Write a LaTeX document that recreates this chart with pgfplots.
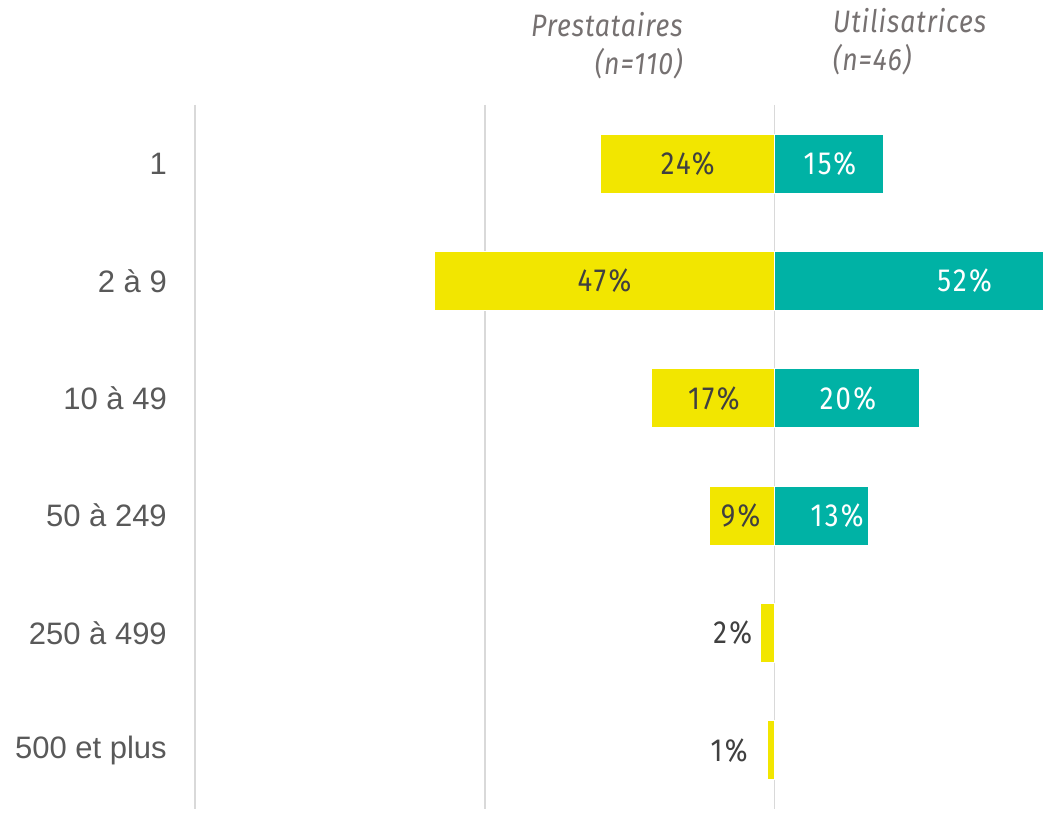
\documentclass[border=0pt]{standalone}
\usepackage{pgfplots}
\pgfplotsset{compat=1.18}
\usepackage{fontspec}
\setmainfont{Liberation Sans}
\newfontfamily\ecfont[FakeStretch=0.86, LetterSpace=7]{Fira Sans}
\newfontfamily\ecitfont[FakeStretch=0.86, LetterSpace=3]{Fira Sans Italic}
\definecolor{ecyellow}{HTML}{F2E600}
\definecolor{ecteal}{HTML}{00B2A5}
\definecolor{textdark}{HTML}{404040}
\definecolor{catgray}{HTML}{595959}
\definecolor{headgray}{HTML}{767171}
\begin{document}
\begin{tikzpicture}
\begin{axis}[
  width=848pt, height=704pt, scale only axis,
  xmin=-80, xmax=37, ymin=-0.5, ymax=5.5, y dir=reverse,
  axis line style={draw=none},
  xtick={-80,-40,0}, xticklabels={},
  xmajorgrids, grid style={color=black!15, line width=1.3pt},
  major tick length=0pt,
  ytick={0,...,5},
  yticklabels={1,2 à 9,10 à 49,50 à 249,250 à 499,500 et plus},
  yticklabel style={font=\fontsize{31}{36}\selectfont, text=catgray, anchor=east, inner sep=0pt, xshift=-28pt},
  clip mode=individual,
]
\addplot[xbar, bar width=59pt, bar shift=0pt, fill=ecyellow, draw=white, line width=1.2pt]
  coordinates {(-24,0) (-47,1) (-17,2) (-9,3) (-2,4) (-1,5)};
\addplot[xbar, bar width=59pt, bar shift=0pt, fill=ecteal, draw=white, line width=1.2pt]
  coordinates {(15,0) (52,1) (20,2) (13,3)};
\addplot[draw=none, mark=none, nodes near coords, point meta=explicit symbolic,
  every node near coord/.style={anchor=center, inner sep=0pt, font=\ecfont\fontsize{32}{36}\selectfont, text=textdark}]
  coordinates {(-12,0)[24\%] (-23.5,1)[47\%] (-8.4,2)[17\%] (-4.7,3)[9\%] (-5.8,4)[2\%] (-6.3,5)[1\%]};
\addplot[draw=none, mark=none, nodes near coords, point meta=explicit symbolic,
  every node near coord/.style={anchor=center, inner sep=0pt, font=\ecfont\fontsize{32}{36}\selectfont, text=white}]
  coordinates {(7.6,0)[15\%] (26.2,1)[52\%] (10.1,2)[20\%] (8.6,3)[13\%]};
\node[anchor=base east, inner sep=0pt, font=\ecitfont\fontsize{31}{36}\selectfont, text=headgray] at (axis cs:-12.69,-1.08) {Prestataires};
\node[anchor=base east, inner sep=0pt, font=\ecitfont\fontsize{31}{36}\selectfont, text=headgray] at (axis cs:-12.69,-0.764) {(n=110)};
\node[anchor=base west, inner sep=0pt, font=\ecitfont\fontsize{31}{36}\selectfont, text=headgray] at (axis cs:8.0,-1.114) {Utilisatrices};
\node[anchor=base west, inner sep=0pt, font=\ecitfont\fontsize{31}{36}\selectfont, text=headgray] at (axis cs:8.0,-0.798) {(n=46)};
\end{axis}
\path ([xshift=-195pt]current axis.south west) rectangle ([yshift=105pt]current axis.north east);
\end{tikzpicture}
\end{document}
